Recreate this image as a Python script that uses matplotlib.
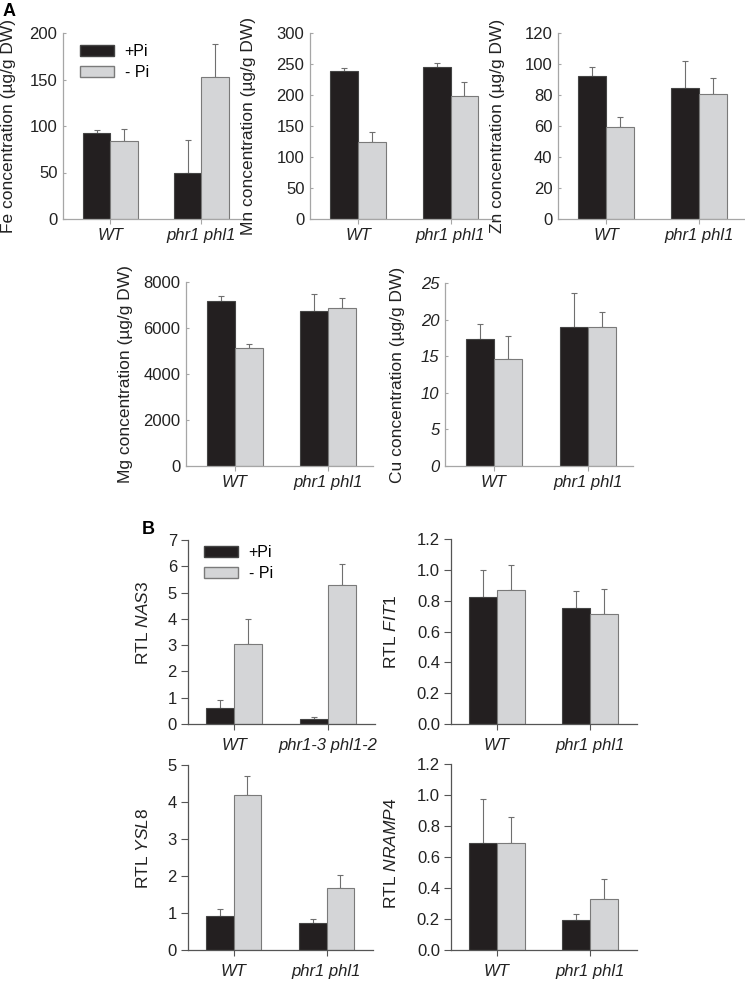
import numpy as np
import matplotlib
matplotlib.use('Agg')
import matplotlib.pyplot as plt
from matplotlib.patches import Patch

plt.rcParams['font.family'] = ['Liberation Sans', 'DejaVu Sans']
plt.rcParams['font.size'] = 12
plt.rcParams['mathtext.fontset'] = 'custom'
plt.rcParams['mathtext.rm'] = 'Liberation Sans'
plt.rcParams['mathtext.it'] = 'Liberation Sans:italic'

# Data (mean, upper error)
genotypes = ['WT', 'phr1 phl1']
genotypes_nas3 = ['WT', 'phr1-3 phl1-2']

fe_plus = [92, 49]
fe_plus_err = [3.3, 36]
fe_minus = [84, 152.7]
fe_minus_err = [12.4, 35]

mn_plus = [238, 245]
mn_plus_err = [5.5, 6.6]
mn_minus = [124, 199]
mn_minus_err = [16, 22]

zn_plus = [92.3, 84.5]
zn_plus_err = [5.5, 17.5]
zn_minus = [59.4, 80.6]
zn_minus_err = [6.6, 10.2]

mg_plus = [7170, 6740]
mg_plus_err = [230, 730]
mg_minus = [5150, 6880]
mg_minus_err = [170, 430]

cu_plus = [17.3, 19.0]
cu_plus_err = [2.1, 4.6]
cu_minus = [14.6, 19.0]
cu_minus_err = [3.1, 2.0]

nas3_plus = [0.59, 0.18]
nas3_plus_err = [0.34, 0.07]
nas3_minus = [3.05, 5.30]
nas3_minus_err = [0.93, 0.78]

fit1_plus = [0.822, 0.752]
fit1_plus_err = [0.18, 0.113]
fit1_minus = [0.867, 0.716]
fit1_minus_err = [0.167, 0.162]

ysl8_plus = [0.93, 0.72]
ysl8_plus_err = [0.19, 0.11]
ysl8_minus = [4.2, 1.67]
ysl8_minus_err = [0.5, 0.37]

nramp4_plus = [0.688, 0.196]
nramp4_plus_err = [0.288, 0.036]
nramp4_minus = [0.688, 0.327]
nramp4_minus_err = [0.17, 0.131]

W, H = 745, 983
fig = plt.figure(figsize=(W / 100, H / 100), dpi=100)

BLACK = '#231f20'
GRAY = '#d4d5d7'


def px_axes(x0, x1, top, bottom):
    return fig.add_axes([x0 / W, 1 - bottom / H, (x1 - x0) / W, (bottom - top) / H])


def draw(ax, plus, plus_err, minus, minus_err, labels, ymax, ystep, panel,
         ylabel, label_x, label_y=0.5, fmt=None, italic_y=False):
    x = np.arange(len(labels))
    w = 0.3
    spine_col = '#a6a6a6' if panel == 'A' else '#555555'
    ax.bar(x - w / 2, plus, w, color=BLACK, edgecolor='#444444', linewidth=0.8, zorder=2)
    ax.bar(x + w / 2, minus, w, color=GRAY, edgecolor='#7a7a7a', linewidth=0.8, zorder=2)
    for xs, v, e in [(x - w / 2, plus, plus_err), (x + w / 2, minus, minus_err)]:
        ax.errorbar(xs, v, yerr=[np.zeros(len(e)), e], fmt='none', ecolor='#6f6f6f',
                    elinewidth=0.8, capsize=2.2, capthick=0.8, zorder=1)
    ax.set_ylim(0, ymax)
    if panel == 'A':
        ax.set_xlim(-0.52, 1.48)
    else:
        ax.set_xlim(-0.49, 1.5)
    ax.set_yticks(np.arange(0, ymax + ystep / 2, ystep))
    if fmt:
        ax.set_yticklabels([fmt % t for t in ax.get_yticks()])
    ax.set_xticks(x)
    ax.set_xticklabels(labels, fontstyle='italic')
    for s in ['top', 'right']:
        ax.spines[s].set_visible(False)
    for s in ['left', 'bottom']:
        ax.spines[s].set_color(spine_col)
        ax.spines[s].set_linewidth(0.9)
    if panel == 'A':
        ax.tick_params(axis='y', direction='in', length=2.5, width=0.8, color=spine_col,
                       pad=4, labelcolor='#222222', labelsize=12)
        ax.tick_params(axis='x', direction='out', length=3.5, width=0.8, color=spine_col,
                       pad=3, labelcolor='#222222', labelsize=12)
    else:
        ax.tick_params(axis='y', direction='out', length=5, width=0.8, color=spine_col,
                       pad=3, labelcolor='#222222', labelsize=12)
        ax.tick_params(axis='x', direction='out', length=4, width=0.8, color=spine_col,
                       pad=6, labelcolor='#222222', labelsize=12)
    if italic_y:
        for t in ax.get_yticklabels():
            t.set_fontstyle('italic')
    ax.set_ylabel(ylabel, fontsize=12.5, color='#222222')
    ax.yaxis.set_label_coords(label_x, label_y)


def add_legend(x_px, y_px):
    handles = [Patch(facecolor=BLACK, edgecolor='#444444', label='+Pi'),
               Patch(facecolor=GRAY, edgecolor='#7a7a7a', label='- Pi')]
    fig.legend(handles=handles, loc='upper left', bbox_to_anchor=(x_px / W, 1 - y_px / H),
               bbox_transform=fig.transFigure, frameon=False, borderpad=0,
               borderaxespad=0, handlelength=2.1, handleheight=0.65,
               handletextpad=0.7, labelspacing=0.4, fontsize=11.5)


# Panel A
ax = px_axes(63, 245, 33, 219)
draw(ax, fe_plus, fe_plus_err, fe_minus, fe_minus_err, genotypes, 200, 50, 'A',
     'Fe concentration (µg/g DW)', -0.26)
add_legend(80, 44)

ax = px_axes(310, 495, 33, 219)
draw(ax, mn_plus, mn_plus_err, mn_minus, mn_minus_err, genotypes, 300, 50, 'A',
     'Mn concentration (µg/g DW)', -0.29)

ax = px_axes(558, 744, 33, 219)
draw(ax, zn_plus, zn_plus_err, zn_minus, zn_minus_err, genotypes, 120, 20, 'A',
     'Zn concentration (µg/g DW)', -0.285)

ax = px_axes(186, 373, 282, 466)
draw(ax, mg_plus, mg_plus_err, mg_minus, mg_minus_err, genotypes, 8000, 2000, 'A',
     'Mg concentration (µg/g DW)', -0.283)

ax = px_axes(445, 633, 283, 466)
draw(ax, cu_plus, cu_plus_err, cu_minus, cu_minus_err, genotypes, 25, 5, 'A',
     'Cu concentration (µg/g DW)', -0.213, italic_y=True)

# Panel B
ax = px_axes(188, 375, 540, 724)
draw(ax, nas3_plus, nas3_plus_err, nas3_minus, nas3_minus_err, genotypes_nas3, 7, 1, 'B',
     r'RTL $\mathit{NAS3}$', -0.2, 0.55)
add_legend(204, 545)

ax = px_axes(451, 637, 539, 724)
draw(ax, fit1_plus, fit1_plus_err, fit1_minus, fit1_minus_err, genotypes, 1.2, 0.2, 'B',
     r'RTL $\mathit{FIT1}$', -0.28, 0.5, fmt='%.1f')

ax = px_axes(188, 373, 765, 950)
draw(ax, ysl8_plus, ysl8_plus_err, ysl8_minus, ysl8_minus_err, genotypes, 5, 1, 'B',
     r'RTL $\mathit{YSL8}$', -0.2, 0.55)

ax = px_axes(451, 637, 764, 950)
draw(ax, nramp4_plus, nramp4_plus_err, nramp4_minus, nramp4_minus_err, genotypes, 1.2, 0.2, 'B',
     r'RTL $\mathit{NRAMP4}$', -0.28, 0.52, fmt='%.1f')

fig.text(3 / W, 1 - 11 / H, 'A', fontsize=13, fontweight='bold', va='center', ha='left')
fig.text(142 / W, 1 - 529 / H, 'B', fontsize=13, fontweight='bold', va='center', ha='left')

fig.savefig('out.png', dpi=100)
